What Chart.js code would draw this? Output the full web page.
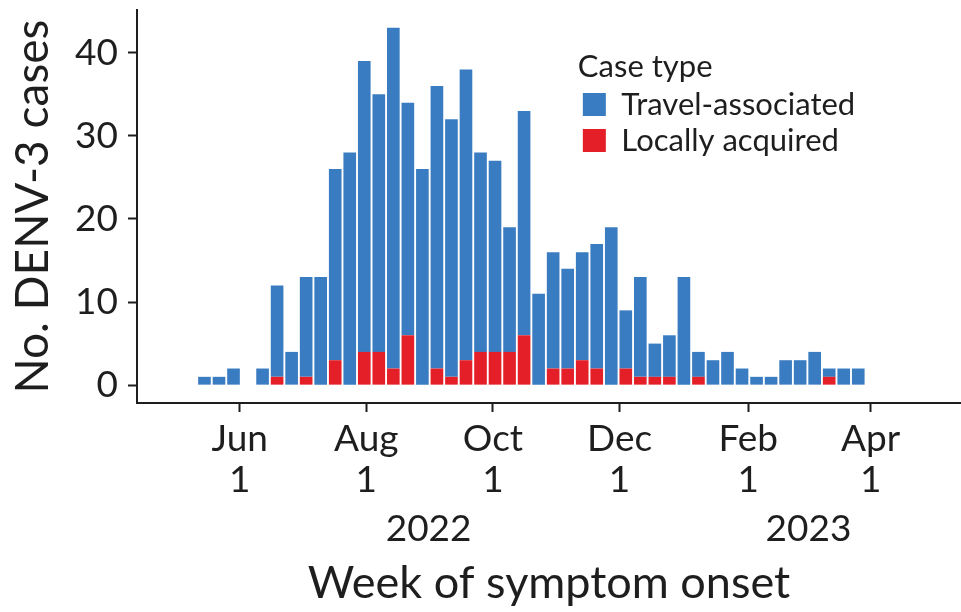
<!DOCTYPE html>
<html><head><meta charset="utf-8">
<script src="https://cdn.jsdelivr.net/npm/chart.js@4.4.1/dist/chart.umd.min.js"></script>
<style>html,body{margin:0;padding:0;background:#fff;}#wrap{width:961px;height:612px;}</style>
</head><body><div id="wrap"><canvas id="c" width="961" height="612"></canvas></div>
<script>
// ---- Data ----
const weekStarts = [
  '2022-05-15','2022-05-22','2022-05-29','2022-06-05','2022-06-12','2022-06-19','2022-06-26',
  '2022-07-03','2022-07-10','2022-07-17','2022-07-24','2022-07-31','2022-08-07','2022-08-14',
  '2022-08-21','2022-08-28','2022-09-04','2022-09-11','2022-09-18','2022-09-25','2022-10-02',
  '2022-10-09','2022-10-16','2022-10-23','2022-10-30','2022-11-06','2022-11-13','2022-11-20',
  '2022-11-27','2022-12-04','2022-12-11','2022-12-18','2022-12-25','2023-01-01','2023-01-08',
  '2023-01-15','2023-01-22','2023-01-29','2023-02-05','2023-02-12','2023-02-19','2023-02-26',
  '2023-03-05','2023-03-12','2023-03-19','2023-03-26'
];
const travelCases = [1,1,2,0,2,11,4,12,13,23,28,35,31,41,28,26,34,31,35,24,23,15,27,11,14,12,13,15,19,7,12,4,5,13,3,3,4,2,1,1,3,3,4,1,2,2];
const localCases  = [0,0,0,0,0,1,0,1,0,3,0,4,4,2,6,0,2,1,3,4,4,4,6,0,2,2,3,2,0,2,1,1,1,0,1,0,0,0,0,0,0,0,0,1,0,0];
const seriesNames = ['Travel-associated', 'Locally acquired'];
const monthTickDates = ['2022-06-01','2022-08-01','2022-10-01','2022-12-01','2023-02-01','2023-04-01'];
const monthTickLabels = [['Jun','1'],['Aug','1'],['Oct','1'],['Dec','1'],['Feb','1'],['Apr','1']];
const yearLabelDates = ['2022-08-31','2023-03-02'];
const yearLabels = ['2022','2023'];
const yTicks = [0,10,20,30,40];

// ---- Helpers ----
function dayOf(s){
  const [y,m,d] = s.split('-').map(Number);
  return (Date.UTC(y,m-1,d) - Date.UTC(2022,0,1)) / 86400000;
}
const FONT = 'Lato';
const TXT = '#1e1e1e';
const BLUE = '#3a7cc1';
const RED = '#e41f27';
const X_MIN = 101.5, X_MAX = 498.5;

const legendMover = {
  id: 'legendMover',
  afterLayout(chart){
    const lg = chart.legend; const ca = chart.chartArea;
    if(!lg) return;
    const w = lg.width, h = lg.height;
    lg.left = ca.left + 0.535 * (ca.right - ca.left);
    lg.top = ca.top + 41;
    lg.right = lg.left + w; lg.bottom = lg.top + h;
  }
};

new Chart(document.getElementById('c'), {
  type: 'bar',
  data: {
    datasets: [
      { label: seriesNames[1], data: weekStarts.map((w,i)=>({x: dayOf(w), y: localCases[i]})),
        backgroundColor: RED, borderWidth: 0, barPercentage: 0.87, categoryPercentage: 1 },
      { label: seriesNames[0], data: weekStarts.map((w,i)=>({x: dayOf(w), y: travelCases[i]})),
        backgroundColor: BLUE, borderWidth: 0, barPercentage: 0.87, categoryPercentage: 1 }
    ]
  },
  options: {
    responsive: false, animation: false, devicePixelRatio: 1,
    layout: { padding: { top: 10, right: 0, bottom: 0, left: 0 } },
    plugins: {
      tooltip: { enabled: false },
      legend: {
        position: 'chartArea', align: 'start', reverse: true,
        title: { display: true, text: 'Case type', position: 'start', color: TXT,
                 font: { family: FONT, size: 31, lineHeight: 1 }, padding: { top: 0, bottom: 2 } },
        labels: { boxWidth: 23, boxHeight: 23, padding: 5, color: TXT,
                  font: { family: FONT, size: 31, lineHeight: 1 } }
      }
    },
    scales: {
      x: {
        type: 'linear', min: X_MIN, max: X_MAX, offset: false, stacked: true, bounds: 'data',
        grid: { display: true, offset: false, drawOnChartArea: false, drawTicks: true, tickLength: 9, tickWidth: 2, tickColor: TXT },
        border: { display: true, color: TXT, width: 2 },
        afterBuildTicks: s => { s.ticks = monthTickDates.map(d => ({ value: dayOf(d) })); },
        ticks: { autoSkip: false, maxRotation: 0, minRotation: 0, padding: 7, color: TXT,
                 font: { family: FONT, size: 37, lineHeight: 1.1 },
                 callback: (v, i) => monthTickLabels[i] },
        afterFit: s => { s.height = 100; s.paddingLeft = 0; s.paddingRight = 0; }
      },
      x2: {
        type: 'linear', position: 'bottom', min: X_MIN, max: X_MAX, offset: false, weight: 1, bounds: 'data',
        grid: { display: false, drawTicks: false, offset: false },
        border: { display: false },
        afterBuildTicks: s => { s.ticks = yearLabelDates.map(d => ({ value: dayOf(d) })); },
        ticks: { autoSkip: false, maxRotation: 0, minRotation: 0, padding: 6, color: TXT,
                 font: { family: FONT, size: 37, lineHeight: 1.1 },
                 callback: (v, i) => yearLabels[i] },
        title: { display: true, text: 'Week of symptom onset', color: TXT,
                 font: { family: FONT, size: 45, lineHeight: 1 }, padding: { top: 0, bottom: 6 } },
        afterFit: s => { s.height = 109; s.paddingLeft = 0; s.paddingRight = 0; }
      },
      y: {
        stacked: true, min: -2.15, max: 45.15,
        afterBuildTicks: s => { s.ticks = yTicks.map(v => ({ value: v })); },
        grid: { display: true, drawOnChartArea: false, drawTicks: true, tickLength: 9, tickWidth: 2, tickColor: TXT },
        border: { display: true, color: TXT, width: 2 },
        ticks: { padding: 10, color: TXT, font: { family: FONT, size: 37 } },
        title: { display: true, text: 'No. DENV-3 cases', color: TXT,
                 font: { family: FONT, size: 46, lineHeight: 1 }, padding: { top: 10, bottom: 0 } },
        afterFit: s => { s.width = 137; s.paddingTop = 0; s.paddingBottom = 0; }
      }
    }
  },
  plugins: [legendMover]
});
</script>
</body></html>
